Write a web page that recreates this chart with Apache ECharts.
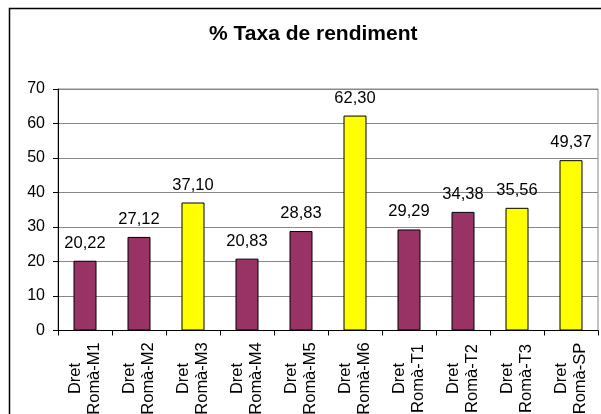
<!DOCTYPE html>
<html lang="ca">

<head>
  <meta charset="utf-8">
  <title>% Taxa de rendiment</title>
  <style>
    html, body { margin: 0; padding: 0; background: #fff; }
    #chart { width: 601px; height: 414px; }
  </style>
</head>

<body>
  <div id="chart"></div>
  <script src="https://cdn.jsdelivr.net/npm/echarts@6/dist/echarts.min.js"></script>
  <script>
    // dades llegides del gràfic
    var categories = ['Dret\nRomà-M1', 'Dret\nRomà-M2', 'Dret\nRomà-M3', 'Dret\nRomà-M4', 'Dret\nRomà-M5',
      'Dret\nRomà-M6', 'Dret\nRomà-T1', 'Dret\nRomà-T2', 'Dret\nRomà-T3', 'Dret\nRomà-SP'];
    var taxa = [20.22, 27.12, 37.10, 20.83, 28.83, 62.30, 29.29, 34.38, 35.56, 49.37];
    // groc per a les barres destacades
    var highlighted = [false, false, true, false, false, true, false, false, true, true];
    var yTicks = [0, 10, 20, 30, 40, 50, 60, 70];

    var font = 'Liberation Sans, Arial, sans-serif';
    var chart = echarts.init(document.getElementById('chart'));

    var barData = taxa.map(function (v, i) {
      return {
        value: v,
        itemStyle: { color: highlighted[i] ? '#FFFF00' : '#993366' }
      };
    });

    var option = {
      animation: false,
      title: {
        text: '% Taxa de rendiment',
        left: 209,
        top: 24,
        padding: 0,
        textStyle: { fontFamily: font, fontSize: 21, fontWeight: 'bold', color: '#000' }
      },
      graphic: [{
        type: 'rect',
        silent: true,
        shape: { x: 9.5, y: 8.5, width: 1000, height: 1000 },
        style: { fill: 'none', stroke: '#000', lineWidth: 1.5 }
      }],
      grid: {
        left: 58,
        right: 3,
        top: 89,
        bottom: 83.5,
        outerBoundsMode: 'none',
        containLabel: false,
        show: true,
        borderColor: '#888',
        borderWidth: 1,
        backgroundColor: 'transparent'
      },
      xAxis: {
        type: 'category',
        data: categories,
        axisLine: { lineStyle: { color: '#000', width: 1 } },
        axisTick: { show: true, length: 5, lineStyle: { color: '#000' } },
        axisLabel: {
          rotate: 90,
          align: 'center',
          verticalAlign: 'middle',
          margin: 48,
          lineHeight: 19,
          fontFamily: font,
          fontSize: 16.5,
          color: '#000'
        }
      },
      yAxis: {
        type: 'value',
        min: yTicks[0],
        max: yTicks[yTicks.length - 1],
        interval: 10,
        axisLine: { show: true, lineStyle: { color: '#000', width: 1 } },
        axisTick: { show: true, length: 5, lineStyle: { color: '#000' } },
        axisLabel: { margin: 13, fontFamily: font, fontSize: 16, color: '#000' },
        splitLine: { lineStyle: { color: '#888', width: 1 } }
      },
      series: [{
        type: 'bar',
        data: barData,
        barWidth: 23,
        itemStyle: { borderColor: '#000', borderWidth: 1 },
        label: {
          show: true,
          position: 'top',
          distance: 9,
          fontFamily: font,
          fontSize: 16.5,
          color: '#000',
          formatter: function (p) { return p.value.toFixed(2).replace('.', ','); }
        }
      }]
    };
    chart.setOption(option);
  </script>
</body>

</html>
